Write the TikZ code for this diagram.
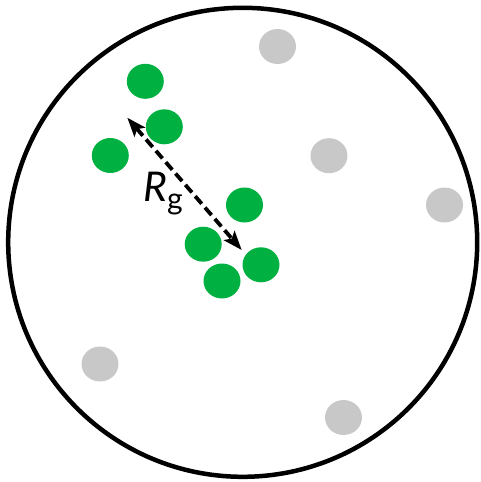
\documentclass[tikz,border=0pt]{standalone}
\usepackage{fontspec}
\setmainfont{Lato}
\usetikzlibrary{shapes.geometric,arrows.meta}
\definecolor{pgreen}{RGB}{0,176,64}
\definecolor{pgray}{RGB}{200,200,200}
\begin{document}
\begin{tikzpicture}[x=1pt,y=-1pt,
  gball/.style={ellipse,fill=pgreen,minimum width=37pt,minimum height=35pt,inner sep=0pt},
  yball/.style={ellipse,fill=pgray,minimum width=37pt,minimum height=35pt,inner sep=0pt},
  rgarrow/.style={line width=3.8pt,dash pattern=on 10pt off 5pt,{Stealth[length=19pt,width=14pt,inset=4pt]}-{Stealth[length=19pt,width=14pt,inset=4pt]}}]
\useasboundingbox (0,0) rectangle (480,482);
\node[circle,draw,line width=4.5pt,minimum size=469pt,inner sep=0pt] (box) at (242.7,242.3) {};
\node[yball] (y1) at (277.5,46.5) {};
\node[yball] (y2) at (329,155.7) {};
\node[yball] (y3) at (444.5,205) {};
\node[yball] (y4) at (100,364) {};
\node[yball] (y5) at (343.5,417.5) {};
\node[gball] (g1) at (145.3,81.3) {};
\node[gball] (g2) at (164.3,126.8) {};
\node[gball] (g3) at (110.3,155.5) {};
\node[gball] (g4) at (244.5,205) {};
\node[gball] (g5) at (203.2,244.2) {};
\node[gball] (g6) at (261,264.8) {};
\node[gball] (g7) at (222,281) {};
\coordinate (a) at (127.3,117.7);
\coordinate (b) at (241.7,250);
\draw[rgarrow] (a) -- (b);
\node[anchor=base west,inner sep=0pt] (rg) at (143,201) {\fontsize{41}{41}\selectfont\itshape R\hspace{0pt}\raisebox{-8pt}{\fontsize{30}{30}\selectfont\upshape g}};
\end{tikzpicture}
\end{document}
